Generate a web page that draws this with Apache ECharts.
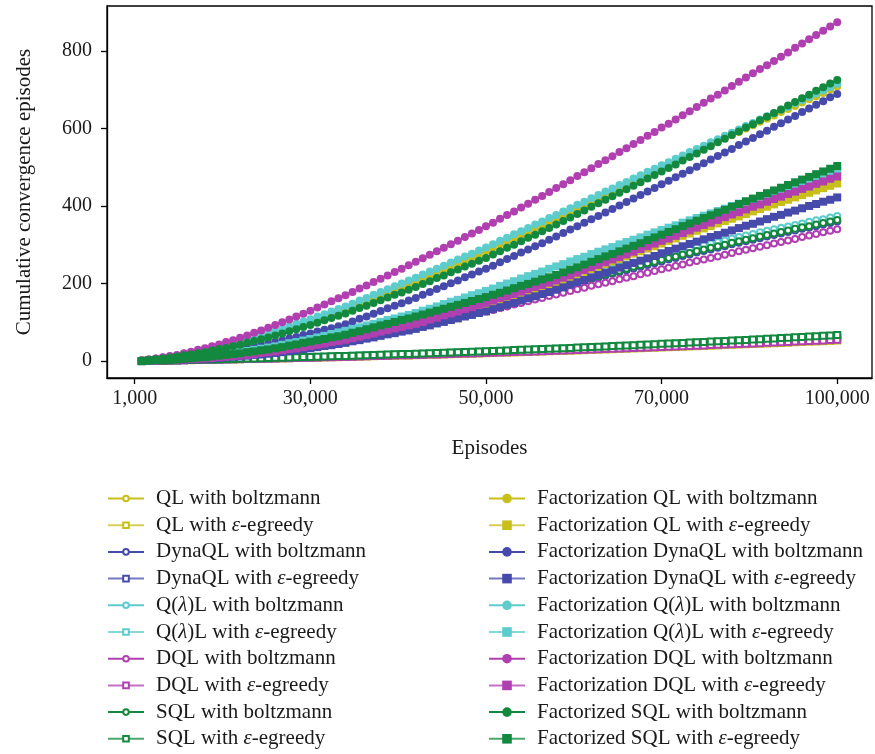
<!DOCTYPE html>
<html><head><meta charset="utf-8">
<script src="https://cdn.jsdelivr.net/npm/echarts@6/dist/echarts.min.js"></script>
<style>html,body{margin:0;padding:0;background:#fff}#c{width:875px;height:754px}</style>
</head><body><div id="c"></div>
<script>
const episodes = [1000,2000,3000,4000,5000,6000,7000,8000,9000,10000,11000,12000,13000,14000,15000,16000,17000,18000,19000,20000,21000,22000,23000,24000,25000,26000,27000,28000,29000,30000,31000,32000,33000,34000,35000,36000,37000,38000,39000,40000,41000,42000,43000,44000,45000,46000,47000,48000,49000,50000,51000,52000,53000,54000,55000,56000,57000,58000,59000,60000,61000,62000,63000,64000,65000,66000,67000,68000,69000,70000,71000,72000,73000,74000,75000,76000,77000,78000,79000,80000,81000,82000,83000,84000,85000,86000,87000,88000,89000,90000,91000,92000,93000,94000,95000,96000,97000,98000,99000,100000];
const xTickValues = [0, 25000, 50000, 75000, 100000];
const xTickLabels = ['1,000', '30,000', '50,000', '70,000', '100,000'];
const yTickValues = [0, 200, 400, 600, 800];

const seriesNames = [
  'QL with boltzmann','QL with ε-egreedy','DynaQL with boltzmann','DynaQL with ε-egreedy',
  'Q(λ)L with boltzmann','Q(λ)L with ε-egreedy','DQL with boltzmann','DQL with ε-egreedy',
  'SQL with boltzmann','SQL with ε-egreedy',
  'Factorization QL with boltzmann','Factorization QL with ε-egreedy',
  'Factorization DynaQL with boltzmann','Factorization DynaQL with ε-egreedy',
  'Factorization Q(λ)L with boltzmann','Factorization Q(λ)L with ε-egreedy',
  'Factorization DQL with boltzmann','Factorization DQL with ε-egreedy',
  'Factorized SQL with boltzmann','Factorized SQL with ε-egreedy'
];

const qlBoltz = [0,1,2,2,3,4,5,7,8,9,11,13,14,16,18,20,23,25,28,30,33,36,38,41,44,47,51,54,58,61,65,69,72,76,80,84,88,91,95,99,103,107,112,116,120,124,128,133,137,141,146,150,155,160,165,169,174,179,183,188,193,198,202,207,212,217,222,226,231,236,241,245,250,254,259,264,268,273,277,282,286,290,294,298,303,307,311,315,319,323,327,331,335,339,343,346,350,354,358,362];
const qlEps = [0.3,0.6,0.9,1.2,1.4,1.7,2.1,2.4,2.7,3.0,3.3,3.7,4.0,4.4,4.7,5.1,5.5,5.8,6.2,6.6,7.0,7.3,7.7,8.1,8.5,8.9,9.3,9.8,10.2,10.6,11.1,11.5,11.9,12.4,12.9,13.3,13.7,14.2,14.6,15.1,15.6,16.1,16.6,17.1,17.6,18.1,18.6,19.1,19.7,20.1,20.7,21.3,21.8,22.4,22.9,23.5,24.0,24.6,25.1,25.7,26.3,26.9,27.5,28.1,28.8,29.3,29.9,30.6,31.1,31.8,32.4,33.1,33.7,34.4,35.1,35.7,36.3,37.0,37.7,38.3,39.0,39.7,40.4,41.2,41.9,42.5,43.2,43.9,44.6,45.3,46.1,46.8,47.6,48.3,49.1,49.9,50.6,51.4,52.1,52.9];
const dynaBoltz = [0,1,2,2,3,4,5,7,8,9,11,12,14,15,17,19,22,24,27,29,32,35,38,41,44,47,51,54,58,61,65,68,72,76,80,83,87,91,94,98,102,106,111,115,119,123,127,132,136,140,145,149,154,159,164,168,173,178,182,187,192,196,201,206,211,215,220,225,229,234,239,243,248,252,257,262,266,271,275,280,284,288,292,296,301,305,309,313,317,321,325,329,333,337,341,344,348,352,356,360];
const dynaEps = [0.4,0.7,1.0,1.4,1.6,2.0,2.3,2.7,3.1,3.4,3.8,4.2,4.6,5.0,5.4,5.9,6.2,6.7,7.0,7.5,7.9,8.4,8.8,9.3,9.7,10.2,10.6,11.2,11.6,12.1,12.6,13.1,13.6,14.1,14.7,15.1,15.7,16.2,16.7,17.2,17.7,18.4,18.9,19.5,20.1,20.6,21.2,21.8,22.4,23.0,23.6,24.2,24.8,25.5,26.1,26.7,27.4,28.0,28.6,29.3,30.0,30.6,31.3,32.0,32.8,33.4,34.1,34.8,35.5,36.2,36.9,37.7,38.4,39.2,40.0,40.7,41.4,42.1,42.9,43.7,44.5,45.3,46.1,46.9,47.7,48.4,49.2,50.0,50.9,51.7,52.6,53.4,54.3,55.1,56.0,56.9,57.7,58.6,59.4,60.3];
const qlamBoltz = [0,1,2,2,3,4,6,7,9,10,12,14,16,18,20,23,25,28,30,33,36,39,43,46,49,52,55,59,62,65,69,73,77,81,85,88,92,96,100,104,109,113,118,122,127,132,136,141,145,150,155,160,165,170,175,180,185,190,195,200,205,210,215,220,225,229,234,239,244,249,254,258,263,267,272,277,281,286,290,295,299,303,307,311,316,320,324,328,332,336,340,344,347,351,355,359,363,366,370,374];
const qlamEps = [0.4,0.8,1.1,1.5,1.7,2.1,2.5,2.9,3.3,3.7,4.1,4.6,4.9,5.4,5.8,6.3,6.7,7.2,7.6,8.1,8.5,9.0,9.5,10.0,10.5,11.0,11.4,12.0,12.5,13.0,13.6,14.1,14.6,15.2,15.8,16.3,16.9,17.5,17.9,18.5,19.1,19.8,20.4,21.0,21.6,22.2,22.9,23.5,24.2,24.7,25.4,26.1,26.8,27.5,28.1,28.8,29.5,30.2,30.8,31.5,32.3,33.0,33.8,34.5,35.3,36.0,36.8,37.5,38.2,39.0,39.8,40.6,41.4,42.2,43.1,43.8,44.6,45.4,46.3,47.0,47.9,48.8,49.7,50.5,51.4,52.2,53.1,53.9,54.8,55.7,56.6,57.5,58.5,59.4,60.3,61.3,62.2,63.1,64.0,65.0];
const dqlBoltz = [0,1,2,2,3,4,5,6,7,8,10,11,13,14,16,18,20,23,25,27,30,32,35,37,40,43,46,49,52,55,58,62,65,69,72,75,79,82,86,89,93,97,101,105,109,112,116,120,124,128,132,137,141,146,150,154,159,163,168,172,176,181,185,189,194,198,202,206,211,215,219,224,228,232,237,241,245,249,254,258,262,266,270,274,279,283,287,291,295,299,303,307,311,315,320,324,328,332,336,340];
const dqlEps = [0.3,0.7,0.9,1.2,1.5,1.8,2.1,2.5,2.8,3.1,3.4,3.9,4.2,4.6,4.9,5.3,5.7,6.1,6.4,6.8,7.2,7.6,8.0,8.4,8.9,9.3,9.7,10.2,10.6,11.0,11.5,11.9,12.4,12.9,13.4,13.8,14.3,14.8,15.2,15.7,16.2,16.7,17.2,17.8,18.3,18.8,19.4,19.8,20.4,20.9,21.5,22.1,22.6,23.2,23.8,24.4,24.9,25.5,26.1,26.7,27.3,27.9,28.5,29.2,29.8,30.4,31.1,31.7,32.3,33.0,33.6,34.4,35.0,35.7,36.4,37.1,37.7,38.4,39.1,39.8,40.5,41.2,42.0,42.7,43.5,44.1,44.9,45.6,46.3,47.1,47.9,48.6,49.4,50.2,51.0,51.8,52.6,53.4,54.1,54.9];
const sqlBoltz = [0,1,2,2,3,4,5,7,8,9,11,13,14,16,18,20,23,25,28,30,33,36,39,42,45,48,52,55,59,62,66,70,73,77,81,85,89,92,96,100,104,109,113,117,122,126,130,134,139,143,148,152,157,162,167,171,176,181,185,190,195,200,204,209,214,219,224,228,233,238,243,247,252,256,261,266,270,275,279,284,288,292,296,300,305,309,313,317,321,325,329,333,337,341,345,348,352,356,360,364];
const sqlEps = [0.4,0.8,1.1,1.5,1.8,2.2,2.6,3.0,3.4,3.8,4.2,4.7,5.1,5.6,6.0,6.5,6.9,7.4,7.8,8.3,8.8,9.3,9.8,10.3,10.8,11.3,11.8,12.4,12.9,13.4,14.0,14.5,15.1,15.7,16.3,16.8,17.4,18.0,18.5,19.1,19.7,20.4,21.0,21.7,22.3,22.9,23.6,24.2,24.9,25.5,26.2,26.9,27.6,28.3,29.0,29.7,30.4,31.1,31.8,32.5,33.3,34.0,34.8,35.6,36.4,37.1,37.9,38.7,39.4,40.2,41.0,41.9,42.7,43.5,44.4,45.2,46.0,46.8,47.7,48.5,49.4,50.3,51.2,52.1,53.0,53.8,54.7,55.6,56.5,57.4,58.4,59.3,60.3,61.2,62.2,63.2,64.1,65.1,66.0,67.0];
const fQlBoltz = [2,4,6,8,10,13,16,19,22,25,29,33,38,42,46,51,56,62,67,72,78,84,89,95,101,107,114,120,127,133,140,148,155,162,170,177,184,191,199,206,214,222,229,237,245,253,261,268,276,284,292,301,309,318,326,334,343,351,360,368,377,385,394,402,411,420,428,437,445,454,463,471,480,489,498,506,515,524,532,541,549,558,566,575,583,591,600,608,617,625,633,642,650,658,667,675,683,691,700,708];
const fQlEps = [0,1,1,2,2,3,4,6,7,8,10,11,13,14,16,18,20,23,25,27,30,33,35,38,41,44,48,51,55,58,62,66,70,74,78,82,86,90,94,98,103,108,113,118,123,127,132,137,142,147,153,158,164,169,175,181,186,192,197,203,210,216,223,230,237,243,250,257,263,270,277,283,290,296,303,310,316,323,329,336,342,348,355,361,367,373,379,386,392,398,404,410,416,422,428,434,440,446,452,458];
const fDynaBoltz = [1,2,3,5,6,8,10,12,14,16,19,22,24,27,30,34,38,41,45,49,53,58,62,67,71,76,81,85,90,95,102,109,115,122,129,136,143,149,156,163,171,178,186,193,201,208,216,223,231,238,246,255,263,271,280,288,296,304,313,321,330,339,348,357,366,374,383,392,401,410,419,428,437,446,456,465,474,483,492,501,510,520,529,538,547,557,566,575,585,594,604,613,623,632,642,651,661,670,680,689];
const fDynaEps = [0,1,1,2,2,3,3,4,5,6,7,8,10,11,12,14,16,17,19,21,23,26,28,31,33,36,39,41,44,47,51,54,58,61,65,69,72,76,79,83,88,92,97,101,106,110,115,119,124,128,134,139,145,150,156,162,167,173,178,184,190,197,203,209,216,222,228,234,241,247,253,259,265,271,278,284,290,296,302,308,314,320,325,331,337,343,349,354,360,366,372,377,383,388,394,400,405,411,416,422];
const fQlamBoltz = [2,4,7,9,11,14,17,21,24,27,32,36,41,45,50,55,61,66,72,77,83,89,96,102,108,115,121,128,134,141,148,156,163,171,178,185,193,200,208,215,223,231,238,246,254,262,270,277,285,293,301,310,318,327,335,343,352,360,369,377,386,394,403,411,420,428,437,445,454,462,471,479,488,496,505,513,522,530,539,547,555,564,572,581,589,597,606,614,623,631,639,648,656,665,673,681,690,698,707,715];
const fQlamEps = [0,1,2,3,4,6,7,9,10,12,14,16,19,21,23,26,29,32,35,38,42,46,49,53,57,61,65,70,74,78,83,87,92,96,101,106,110,115,119,124,130,135,141,147,153,158,164,170,175,181,187,194,200,206,213,219,225,231,238,244,250,257,263,269,276,282,288,294,301,307,313,319,326,332,338,344,350,357,363,369,375,381,387,393,400,406,412,418,424,430,436,442,448,454,461,467,473,479,485,491];
const fDqlBoltz = [2,4,7,10,13,16,20,24,29,33,38,43,49,54,60,66,73,79,86,93,100,107,115,122,130,138,146,154,162,170,178,187,195,204,212,221,230,238,247,256,265,274,283,292,301,310,320,329,338,348,357,367,377,386,396,406,416,426,436,446,456,466,477,487,497,508,518,528,539,549,560,570,581,591,602,612,623,634,644,655,666,677,687,698,709,720,731,742,753,763,774,785,796,808,819,830,841,852,863,874];
const fDqlEps = [0,1,1,2,2,3,4,5,6,7,8,10,11,13,14,16,18,21,23,25,28,31,33,36,39,42,45,49,52,55,59,63,67,71,76,80,84,88,92,96,101,107,112,118,123,128,134,139,145,150,156,162,167,173,179,185,191,196,202,208,215,221,228,235,242,248,255,262,268,275,282,289,296,303,310,316,323,330,337,344,351,357,364,371,378,384,391,398,404,411,418,424,431,437,444,450,457,463,470,476];
const fSqlBoltz = [1,3,5,7,9,12,15,17,20,23,27,31,34,38,42,47,52,56,61,66,71,77,82,88,93,99,105,111,117,123,130,137,143,150,157,164,171,177,184,191,199,206,214,221,229,236,244,251,259,266,275,283,292,300,309,318,326,335,343,352,361,370,379,388,398,407,416,425,434,443,452,461,471,480,489,498,507,517,526,535,545,554,564,573,583,592,602,611,621,630,640,649,659,668,678,687,697,706,716,725];
const fSqlEps = [0,1,2,2,3,4,6,7,9,10,12,14,16,18,20,23,25,28,30,33,36,40,43,47,50,54,57,61,64,68,73,77,82,87,92,96,101,106,110,115,120,125,130,135,140,145,150,155,160,165,171,176,182,188,194,199,205,211,216,222,229,236,242,249,256,263,270,276,283,290,297,304,312,319,326,333,340,348,355,362,369,376,383,390,398,405,412,419,426,433,440,447,454,461,468,475,482,489,496,503];

const seriesValues = [qlBoltz, qlEps, dynaBoltz, dynaEps, qlamBoltz, qlamEps, dqlBoltz, dqlEps, sqlBoltz, sqlEps,
  fQlBoltz, fQlEps, fDynaBoltz, fDynaEps, fQlamBoltz, fQlamEps, fDqlBoltz, fDqlEps, fSqlBoltz, fSqlEps];

const methodColors = ['#c8bf1a', '#464bab', '#5ccccc', '#b03fb0', '#13883f'];
const FONT = '"Liberation Serif", "Times New Roman", serif';
const TXT = '#1a1a1a';

const series = seriesNames.map((name, k) => {
  const fact = k >= 10;
  const eps = k % 2 === 1;
  const color = methodColors[Math.floor((k % 10) / 2)];
  const symbol = fact ? (eps ? 'rect' : 'circle') : (eps ? 'emptyRect' : 'emptyCircle');
  return {
    name: name,
    type: 'line',
    data: episodes.map((x, j) => [x, seriesValues[k][j]]),
    symbol: symbol,
    symbolSize: fact ? 8 : 6,
    showSymbol: true,
    color: color,
    lineStyle: { color: color, width: 1.5, opacity: eps ? 0.75 : 1 },
    itemStyle: { color: color, borderColor: color, borderWidth: fact ? 0 : 1.5 },
    emphasis: { disabled: true },
    z: 2
  };
});

const richText = { i: { fontStyle: 'italic', fontFamily: FONT, fontSize: 21, lineHeight: 20, color: TXT } };
function legendFmt(name) { return name.replace(/([ελ])/g, '{i|$1}'); }

const legendCommon = {
  orient: 'vertical',
  top: 488,
  height: 300,
  padding: 0,
  itemWidth: 36,
  itemGap: 5.7,
  selectedMode: false,
  formatter: legendFmt,
  textStyle: { fontFamily: FONT, fontSize: 21, lineHeight: 20, color: TXT, padding: [0, 0, 0, 7], rich: richText }
};

const option = {
  animation: false,
  backgroundColor: '#fff',
  grid: { left: 107, right: 3, top: 6, height: 372, show: true, borderColor: '#000', borderWidth: 1.3, containLabel: false },
  legend: [
    Object.assign({}, legendCommon, { left: 107, itemHeight: 7, data: seriesNames.slice(0, 10) }),
    Object.assign({}, legendCommon, { left: 488, itemHeight: 12, data: seriesNames.slice(10) })
  ],
  xAxis: {
    type: 'value', min: -3950, max: 104950,
    name: 'Episodes', nameLocation: 'middle', nameGap: 60,
    nameTextStyle: { fontFamily: FONT, fontSize: 21, color: TXT },
    axisLine: { show: true, onZero: false, lineStyle: { color: '#000', width: 1.3 } },
    axisTick: { show: true, length: 6, inside: false, customValues: xTickValues, lineStyle: { color: '#000', width: 1.3 } },
    axisLabel: { customValues: xTickValues, margin: 11, fontFamily: FONT, fontSize: 20, color: TXT,
      formatter: v => { const i = xTickValues.indexOf(v); return i >= 0 ? xTickLabels[i] : ''; } },
    splitLine: { show: false }
  },
  yAxis: {
    type: 'value', min: -43.6, max: 915.6,
    name: 'Cumulative convergence episodes', nameLocation: 'middle', nameGap: 72,
    nameTextStyle: { fontFamily: FONT, fontSize: 21, color: TXT },
    axisLine: { show: true, onZero: false, lineStyle: { color: '#000', width: 1.3 } },
    axisTick: { show: true, length: 6, inside: false, customValues: yTickValues, lineStyle: { color: '#000', width: 1.3 } },
    axisLabel: { customValues: yTickValues, margin: 15, fontFamily: FONT, fontSize: 20, color: TXT },
    splitLine: { show: false }
  },
  series: series
};

const chart = echarts.init(document.getElementById('c'), null, { renderer: 'canvas' });
chart.setOption(option);
</script></body></html>
